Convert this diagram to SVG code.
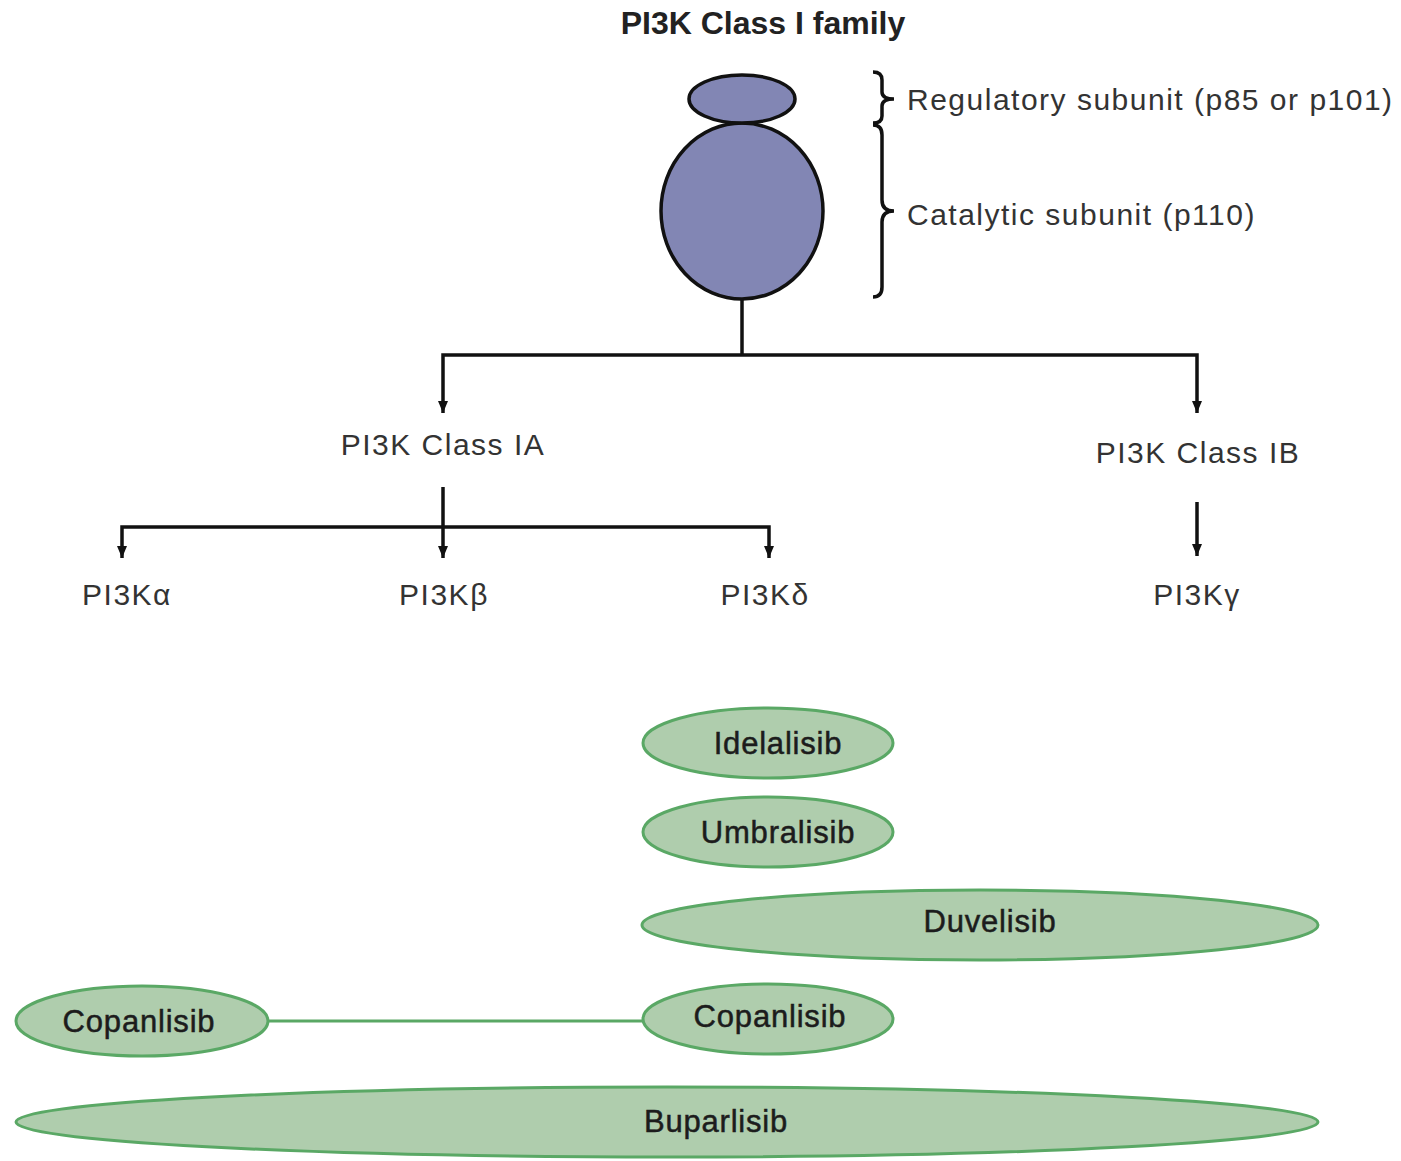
<svg xmlns="http://www.w3.org/2000/svg" width="1401" height="1161" viewBox="0 0 1401 1161">
<style>
.lbl{font-family:"Liberation Sans",Arial,sans-serif;font-size:30px;letter-spacing:1.5px;fill:#333}
.drug{font-family:"Liberation Sans",Arial,sans-serif;font-size:31px;letter-spacing:0.8px;fill:#1c1c1c;stroke:#1c1c1c;stroke-width:0.5}
.ln{stroke:#111;stroke-width:3.5;fill:none}
.gr{fill:#afcdad;stroke:#5aa865;stroke-width:3}
.sub{fill:#8286b4;stroke:#111;stroke-width:3.5}
</style>
<defs>
<marker id="ah" viewBox="0 0 12 10" refX="12" refY="5" markerWidth="12" markerHeight="10" markerUnits="userSpaceOnUse" orient="auto-start-reverse">
<path d="M0,0 L12,5 L0,10 Z" fill="#111"/>
</marker>
</defs>
<rect width="1401" height="1161" fill="#fff"/>
<text x="763" y="34" text-anchor="middle" style="font-family:'Liberation Sans',Arial,sans-serif;font-size:32px;font-weight:bold;fill:#222">PI3K Class I family</text>
<g id="enzyme">
<ellipse class="sub" cx="742" cy="211" rx="81" ry="88"/>
<ellipse class="sub" cx="742" cy="99" rx="53" ry="24"/>
</g>
<g id="braces" fill="none" stroke="#111" stroke-width="3.5">
<path d="M873,72 Q882,72 882,80 L882,92 Q882,99 894,99 Q882,99 882,106 L882,116 Q882,123 873,123"/>
<path d="M873,125 Q882,125 882,135 L882,200 Q882,211 894,211 Q882,211 882,222 L882,287 Q882,297 873,297"/>
</g>
<g id="lbl-reg"><text class="lbl" x="907" y="110">Regulatory subunit (p85 or p101)</text></g>
<g id="lbl-cat"><text class="lbl" x="907" y="225">Catalytic subunit (p110)</text></g>
<g id="connectors">
<path class="ln" d="M742,299 V355"/>
<path class="ln" d="M443,413 V355 H1197 V413" marker-start="url(#ah)" marker-end="url(#ah)"/>
<path class="ln" d="M443,487 V558" marker-end="url(#ah)"/>
<path class="ln" d="M122,558 V527 H769 V558" marker-start="url(#ah)" marker-end="url(#ah)"/>
<path class="ln" d="M1197,502 V556" marker-end="url(#ah)"/>
<path d="M268,1021 H642" stroke="#5aa865" stroke-width="3" fill="none"/>
</g>
<g id="classIA"><text class="lbl" x="443" y="455" text-anchor="middle">PI3K Class IA</text></g>
<g id="classIB"><text class="lbl" x="1198" y="463" text-anchor="middle">PI3K Class IB</text></g>
<g id="alpha"><text class="lbl" x="127" y="605" text-anchor="middle">PI3Kα</text></g>
<g id="beta"><text class="lbl" x="444" y="605" text-anchor="middle">PI3Kβ</text></g>
<g id="delta"><text class="lbl" x="765" y="605" text-anchor="middle">PI3Kδ</text></g>
<g id="gamma"><text class="lbl" x="1197" y="605" text-anchor="middle">PI3Kγ</text></g>
<g id="idelalisib"><ellipse class="gr" cx="768" cy="743" rx="125" ry="35"/><text class="drug" x="778" y="754" text-anchor="middle">Idelalisib</text></g>
<g id="umbralisib"><ellipse class="gr" cx="768" cy="832" rx="125" ry="35"/><text class="drug" x="778" y="843" text-anchor="middle">Umbralisib</text></g>
<g id="duvelisib"><ellipse class="gr" cx="980" cy="925" rx="338" ry="35"/><text class="drug" x="990" y="932" text-anchor="middle">Duvelisib</text></g>
<g id="copanlisib-1"><ellipse class="gr" cx="142" cy="1021" rx="126" ry="35"/><text class="drug" x="139" y="1032" text-anchor="middle">Copanlisib</text></g>
<g id="copanlisib-2"><ellipse class="gr" cx="768" cy="1019" rx="125" ry="35"/><text class="drug" x="770" y="1027" text-anchor="middle">Copanlisib</text></g>
<g id="buparlisib"><ellipse class="gr" cx="667" cy="1122" rx="651" ry="35"/><text class="drug" x="716" y="1132" text-anchor="middle">Buparlisib</text></g>
</svg>
